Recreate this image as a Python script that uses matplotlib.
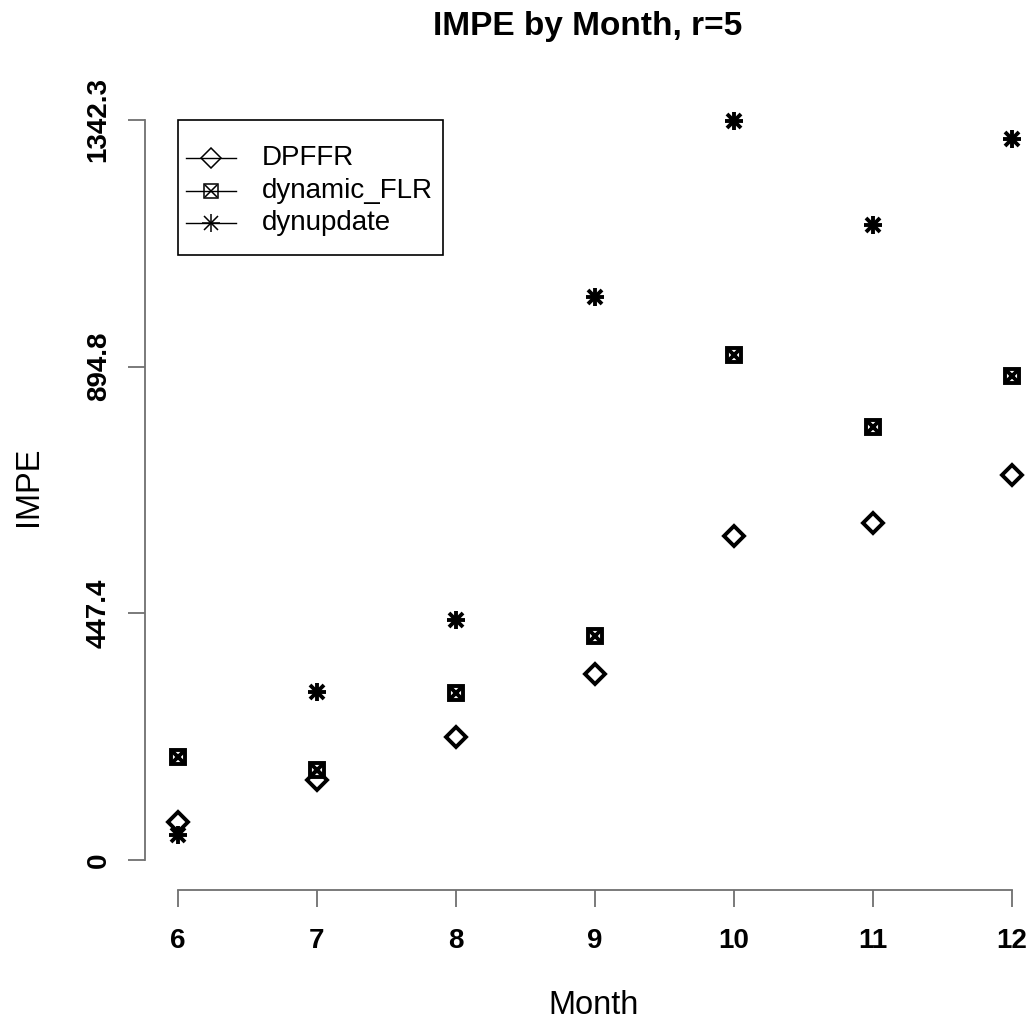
import numpy as np
import matplotlib
matplotlib.use("Agg")
import matplotlib.pyplot as plt
from matplotlib.lines import Line2D
from matplotlib.patches import Rectangle
from matplotlib.transforms import Affine2D

plt.rcParams['font.family'] = ['Liberation Sans', 'DejaVu Sans']

# data
months = [6, 7, 8, 9, 10, 11, 12]
dpffr = [69, 145, 223, 337, 588, 611, 698]
dynamic_flr = [187, 163, 303, 406, 916, 785, 878]
dynupdate = [45, 305, 435, 1021, 1340, 1152, 1308]
ymax = 1342.3
yticks = [0, ymax / 3, 2 * ymax / 3, ymax]
ytick_labels = ["0", "447.4", "894.8", "1342.3"]
series_names = ["DPFFR", "dynamic_FLR", "dynupdate"]

W, H = 1031, 1025
fig = plt.figure(figsize=(W / 100, H / 100), dpi=100)
# figure pixel coords, origin top-left (for the R-like legend box)
pix = Affine2D().scale(1 / W, -1 / H).translate(0, 1) + fig.transFigure

# plot region in pixels (R style: 4% padding around the data range)
left, right, top, bottom = 145, W, 90.4, 889.6
ax = fig.add_axes([left / W, 1 - bottom / H, (right - left) / W, (bottom - top) / H])
px_per_month = (1012 - 178) / 6
ax.set_xlim(6 - (178 - left) / px_per_month, 6 + (right - 178) / px_per_month)
px_per_unit = (860 - 120) / ymax
ax.set_ylim(-(bottom - 860) / px_per_unit, ymax + (120 - top) / px_per_unit)

# marker recipes: R pch 5 (diamond), 7 (square with x), 8 (asterisk)
symbols = [
    [dict(marker='D', ms=10, mfc='none')],
    [dict(marker='s', ms=9.5, mfc='none'), dict(marker='x', ms=8)],
    [dict(marker='+', ms=13), dict(marker='x', ms=10)],
]

lw = 2.8
for vals, sym in zip([dpffr, dynamic_flr, dynupdate], symbols):
    for kw in sym:
        ax.plot(months, vals, ls='none', mec='black', mew=lw, clip_on=False, **kw)

for s in ['top', 'right']:
    ax.spines[s].set_visible(False)
ax.spines['left'].set_bounds(0, ymax)
ax.spines['bottom'].set_bounds(6, 12)
for s in ['left', 'bottom']:
    ax.spines[s].set_color('#707070')
    ax.spines[s].set_linewidth(1.3)

ax.set_xticks(months)
ax.set_xticklabels([str(m) for m in months], fontsize=20, fontweight='bold')
ax.set_yticks(yticks)
ax.set_yticklabels(ytick_labels, fontsize=20, fontweight='bold', rotation=90, va='center')
ax.tick_params(axis='both', length=12, width=1.3, color='#707070')
ax.tick_params(axis='x', pad=16)
ax.tick_params(axis='y', pad=12)

ax.set_title("IMPE by Month, r=5", fontsize=24, fontweight='bold', pad=40)
fig.text(594 / W, 1 - 1005 / H, "Month", fontsize=23.5, ha='center', va='center')
fig.text(28 / W, 1 - 486 / H, "IMPE", fontsize=23.5, ha='center', va='center', rotation=90)

# legend drawn the way R does it: box, line segment through the symbol, label
fig.add_artist(Rectangle((178, 120), 265, 135, transform=pix, fill=False,
                         ec='black', lw=1.2))
for i, (name, sym) in enumerate(zip(series_names, symbols)):
    yy = 158 + i * 32.5
    fig.add_artist(Line2D([186, 236], [yy, yy], transform=pix, color='black', lw=1))
    for kw in sym:
        fig.add_artist(Line2D([211], [yy], transform=pix, ls='none', mec='black', mew=1.1, **kw))
    fig.text(262, yy, name, transform=pix, fontsize=20, ha='left', va='center')

fig.savefig("out.png", dpi=100)
